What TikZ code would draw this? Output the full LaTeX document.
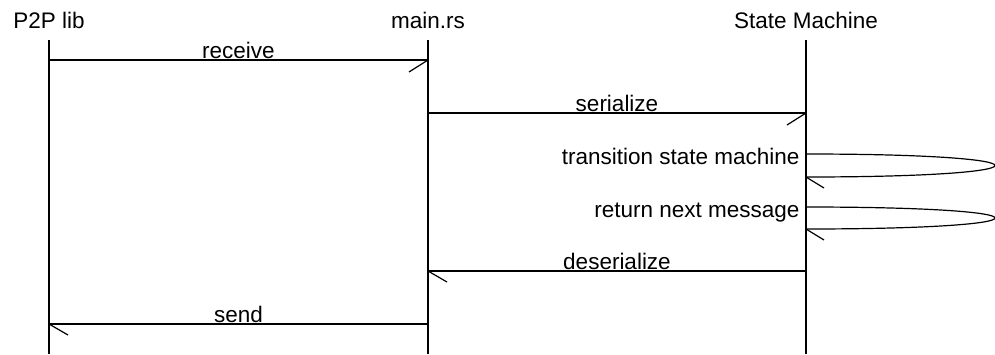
\documentclass[tikz,border=0pt]{standalone}
\usepackage{fontspec}
\setmainfont{Liberation Sans}
\begin{document}
\begin{tikzpicture}[x=1pt,y=-1pt,line width=1.2pt,
  txt/.style={font=\fontsize{22.5}{27}\selectfont,inner sep=0pt},
  title/.style={txt,anchor=base},
  msg/.style={txt,anchor=base,yshift=2pt},
  selfmsg/.style={txt,anchor=base east}]
\useasboundingbox (0,0) rectangle (995,354);
% titles
\node[title] (p2p)  at (49,28)  {P2P lib};
\node[title] (main) at (428,28) {main.rs};
\node[title] (sm)   at (806,28) {State Machine};
% lifelines
\coordinate (p2pTop) at (49,40);  \coordinate (p2pBot) at (49,354);
\coordinate (mainTop) at (428,40); \coordinate (mainBot) at (428,354);
\coordinate (smTop) at (806,40);  \coordinate (smBot) at (806,354);
\draw (p2pTop) -- (p2pBot);
\draw (mainTop) -- (mainBot);
\draw (smTop) -- (smBot);
% receive
\coordinate (rcvA) at (49,60); \coordinate (rcvB) at (428,60);
\draw (rcvA) -- (rcvB) node[msg,midway] (rcvL) {receive};
\draw (rcvB) -- ++(-19,12);
% serialize
\coordinate (serA) at (428,113); \coordinate (serB) at (806,113);
\draw (serA) -- (serB) node[msg,midway] (serL) {serialize};
\draw (serB) -- ++(-19,12);
% transition state machine (self)
\coordinate (trA) at (806,154); \coordinate (trB) at (806,177);
\draw (trA) .. controls (1058,154) and (1058,177) .. (trB);
\draw (trB) -- ++(18,11);
\node[selfmsg] (trL) at (800,164) {transition state machine};
% return next message (self)
\coordinate (rnA) at (806,207); \coordinate (rnB) at (806,229);
\draw (rnA) .. controls (1058,207) and (1058,229) .. (rnB);
\draw (rnB) -- ++(18,11);
\node[selfmsg] (rnL) at (800,217) {return next message};
% deserialize
\coordinate (desA) at (806,271); \coordinate (desB) at (428,271);
\draw (desA) -- (desB) node[msg,midway] (desL) {deserialize};
\draw (desB) -- ++(19,11);
% send
\coordinate (sndA) at (428,324); \coordinate (sndB) at (49,324);
\draw (sndA) -- (sndB) node[msg,midway] (sndL) {send};
\draw (sndB) -- ++(19,11);
\end{tikzpicture}
\end{document}
